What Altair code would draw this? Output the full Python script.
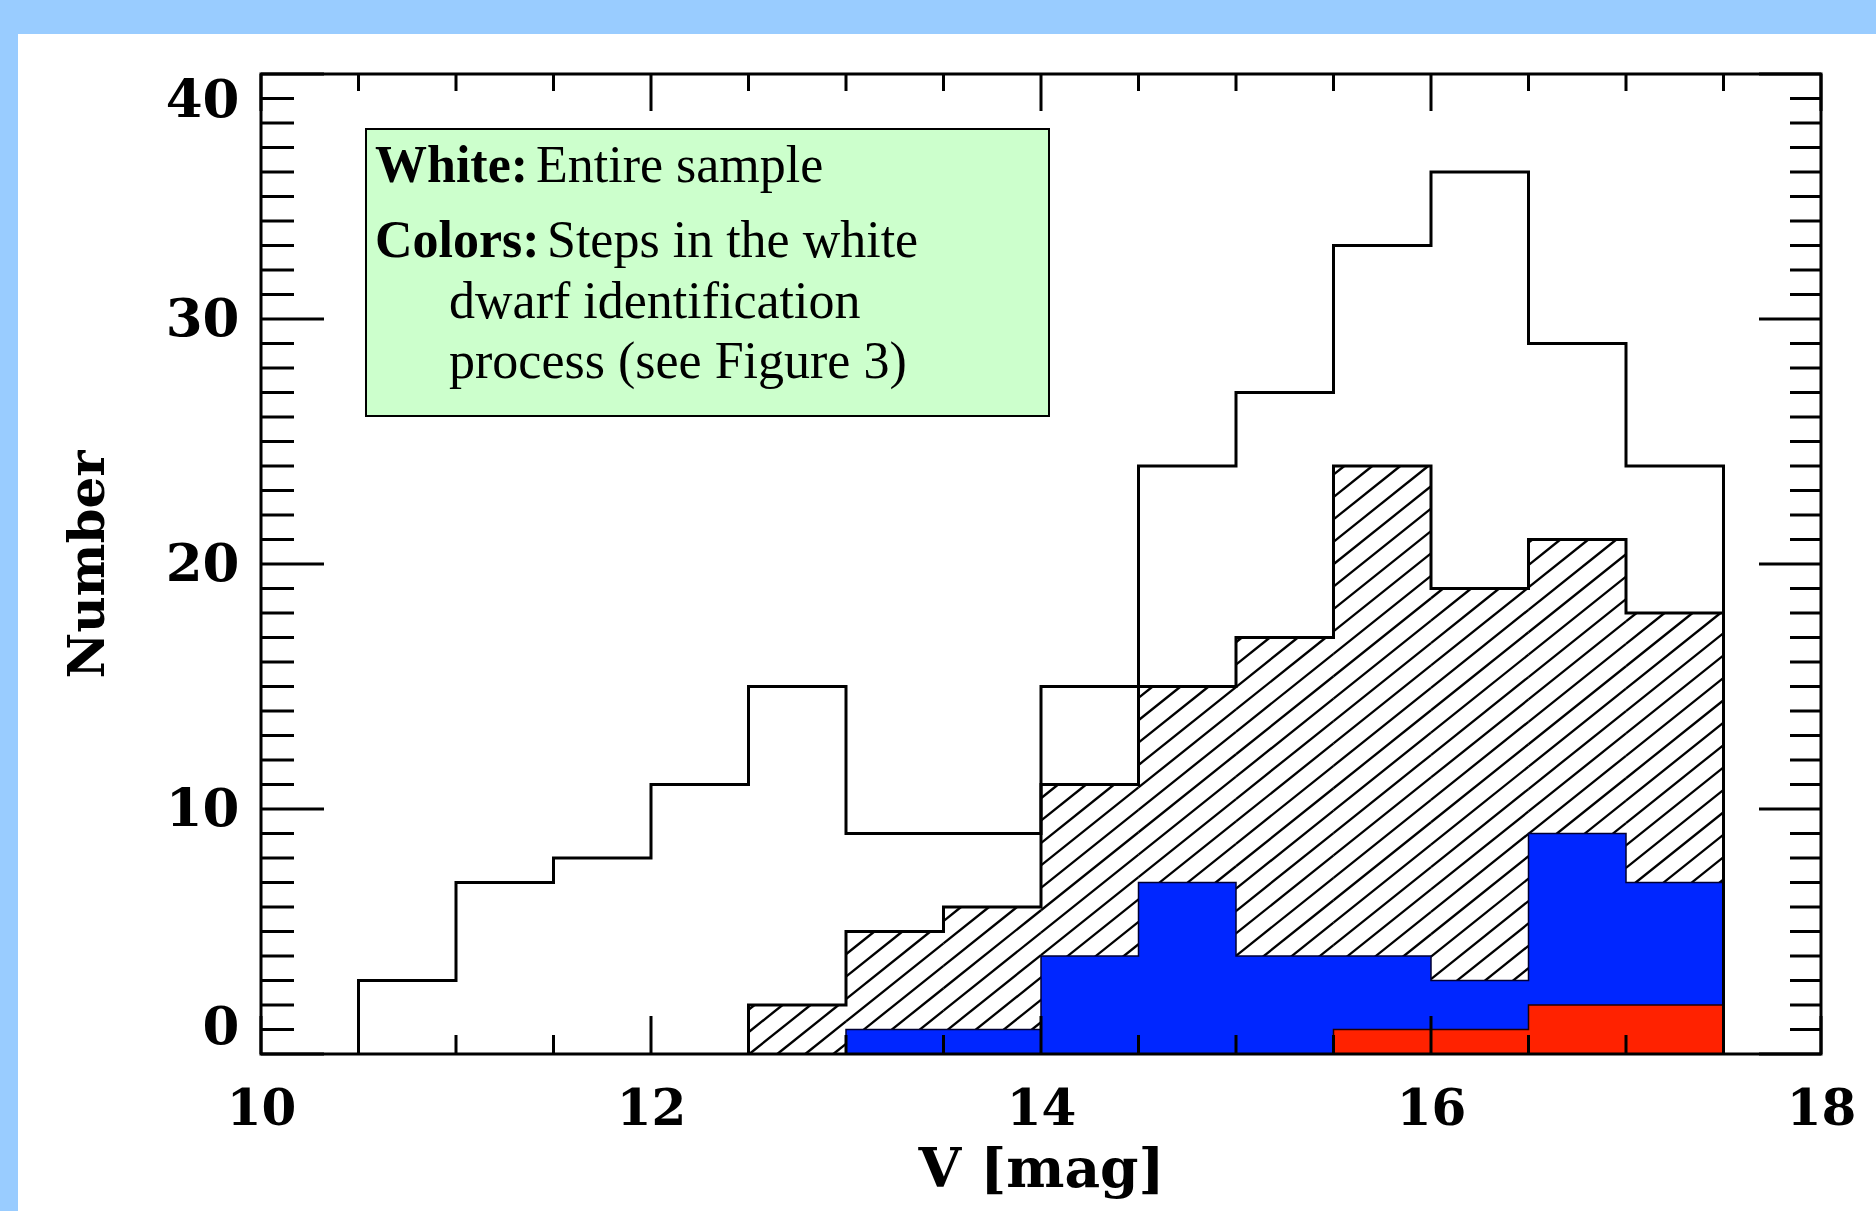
import altair as alt
import pandas as pd
import numpy as np

# ---------------- data ----------------
BIN_WIDTH = 0.5
ALL_START = 10.5
ALL_COUNTS = [3, 7, 8, 11, 15, 9, 9, 15, 24, 27, 33, 36, 29, 24]   # white: entire sample
HATCH_START = 12.5
HATCH_COUNTS = [2, 5, 6, 11, 15, 17, 24, 19, 21, 18]               # hatched step
BLUE_START = 13.0
BLUE_COUNTS = [1, 1, 4, 7, 4, 4, 3, 9, 7]                          # blue step
RED_START = 15.5
RED_COUNTS = [1, 1, 2, 2]                                          # red step

X_DOMAIN = [10, 18]
Y_DOMAIN = [0, 40]
X_MAJOR = [10, 12, 14, 16, 18]
X_MINOR = [10.5, 11, 11.5, 12.5, 13, 13.5, 14.5, 15, 15.5, 16.5, 17, 17.5]
Y_MAJOR = [0, 10, 20, 30, 40]
Y_MINOR = [v for v in range(0, 41) if v % 10 != 0]

X_TITLE = "V [mag]"
Y_TITLE = "Number"
BOX_BOLD = ["White:", "Colors:"]
BOX_TEXT = ["Entire sample", "Steps in the white", "dwarf identification", "process (see Figure 3)"]

# ---------------- layout / style ----------------
W, H = 1560, 980
PAD = {"left": 261, "top": 74, "right": 55, "bottom": 157}
BLUE = "#0026ff"
RED = "#ff2200"
FRAME_BG = "#99ccff"
BOX_BG = "#ccffcc"
AX_FONT = "DejaVu Serif"
TXT_FONT = "Liberation Serif"


def edges(start, counts):
    return [start + BIN_WIDTH * i for i in range(len(counts) + 1)]


def area_df(start, counts):
    e = edges(start, counts)
    return pd.DataFrame({"x": e, "y": list(counts) + [counts[-1]]})


def line_df(start, counts):
    e = edges(start, counts)
    xs = [e[0]] + e[:-1] + [e[-1], e[-1]]
    ys = [0] + list(counts) + [counts[-1], 0]
    return pd.DataFrame({"x": xs, "y": ys, "i": list(range(len(xs)))})


def hatch_df(start, counts, spacing_px=28.0, slope_px=0.8):
    # diagonal hatch segments clipped to each bar of the hatched histogram
    px = W / (X_DOMAIN[1] - X_DOMAIN[0])
    py = H / (Y_DOMAIN[1] - Y_DOMAIN[0])
    s = slope_px * px / py          # counts per mag along a hatch line
    dm = spacing_px / px            # horizontal spacing in mag
    e = edges(start, counts)
    top = max(counts)
    m0 = start - top / s - dm + 0.04
    rows = []
    m = m0
    while m < e[-1]:
        for a, b, c in zip(e[:-1], e[1:], counts):
            lo = max(a, m)
            hi = min(b, m + c / s)
            if hi > lo:
                rows.append({"x": lo, "y": s * (lo - m), "x2": hi, "y2": s * (hi - m)})
        m += dm
    return pd.DataFrame(rows)


xscale = alt.Scale(domain=X_DOMAIN, nice=False, zero=False)
yscale = alt.Scale(domain=Y_DOMAIN, nice=False, zero=False)

xaxis = alt.Axis(values=X_MAJOR, format="d", ticks=False, domain=False, grid=False,
                 labelFont=AX_FONT, labelFontWeight="bold", labelFontSize=50,
                 labelColor="black", labelPadding=30, zindex=2, labelFlush=False,
                 title=X_TITLE, titleFont=AX_FONT, titleFontWeight="bold",
                 titleFontSize=55, titleColor="black", titlePadding=9)
yaxis = alt.Axis(values=Y_MAJOR, format="d", ticks=False, domain=False, grid=False,
                 labelFont=AX_FONT, labelFontWeight="bold", labelFontSize=53,
                 labelColor="black", labelPadding=22, labelFlush=True, zindex=2,
                 title=Y_TITLE, titleFont=AX_FONT, titleFontWeight="bold",
                 titleFontSize=50, titleColor="black", titlePadding=52)


def X(f="x"):
    return alt.X(f"{f}:Q", scale=xscale, axis=xaxis)


def Y(f="y"):
    return alt.Y(f"{f}:Q", scale=yscale, axis=yaxis)


one = pd.DataFrame({"k": [0]})

# white panel behind the plot
panel = alt.Chart(one).mark_rect(fill="white").encode(
    x=alt.value(-243), x2=alt.value(W + PAD["right"]),
    y=alt.value(-40), y2=alt.value(H + PAD["bottom"]))

# hatch
hatch = alt.Chart(hatch_df(HATCH_START, HATCH_COUNTS)).mark_rule(
    color="black", strokeWidth=2.3).encode(x=X(), y=Y(), x2="x2:Q", y2="y2:Q")
hatch_line = alt.Chart(line_df(HATCH_START, HATCH_COUNTS)).mark_line(
    interpolate="step-after", color="black", strokeWidth=3).encode(
    x=X(), y=Y(), order="i:Q")

blue_area = alt.Chart(area_df(BLUE_START, BLUE_COUNTS)).mark_area(
    interpolate="step-after", color=BLUE, opacity=1).encode(x=X(), y=Y())
blue_line = alt.Chart(line_df(BLUE_START, BLUE_COUNTS)).mark_line(
    interpolate="step-after", color="#000033", strokeWidth=1.5).encode(
    x=X(), y=Y(), order="i:Q")

red_area = alt.Chart(area_df(RED_START, RED_COUNTS)).mark_area(
    interpolate="step-after", color=RED, opacity=1).encode(x=X(), y=Y())
red_line = alt.Chart(line_df(RED_START, RED_COUNTS)).mark_line(
    interpolate="step-after", color="#220000", strokeWidth=1.5).encode(
    x=X(), y=Y(), order="i:Q")

all_line = alt.Chart(line_df(ALL_START, ALL_COUNTS)).mark_line(
    interpolate="step-after", color="black", strokeWidth=3).encode(
    x=X(), y=Y(), order="i:Q")

# inward ticks on all four sides
xmaj = pd.DataFrame({"x": X_MAJOR})
xmin = pd.DataFrame({"x": X_MINOR})
ymaj = pd.DataFrame({"y": Y_MAJOR})
ymin = pd.DataFrame({"y": Y_MINOR})


def xticks(df, y0, y1):
    return alt.Chart(df).mark_rule(color="black", strokeWidth=3).encode(
        x=X(), y=alt.value(y0), y2=alt.value(y1))


def yticks(df, x0, x1):
    return alt.Chart(df).mark_rule(color="black", strokeWidth=3).encode(
        y=Y(), x=alt.value(x0), x2=alt.value(x1))


ticks = [
    xticks(xmaj, H, H - 38), xticks(xmin, H, H - 19),
    xticks(xmaj, 0, 37), xticks(xmin, 0, 17),
    yticks(ymaj, 0, 63), yticks(ymin, 0, 33),
    yticks(ymaj, W, W - 62), yticks(ymin, W, W - 31),
]

frame = alt.Chart(one).mark_rect(fill=None, stroke="black", strokeWidth=3).encode(
    x=alt.value(0), x2=alt.value(W), y=alt.value(0), y2=alt.value(H))

# annotation box
box = alt.Chart(one).mark_rect(fill=BOX_BG, stroke="black", strokeWidth=2).encode(
    x=alt.value(105), x2=alt.value(788), y=alt.value(55), y2=alt.value(342))


def txt(s, x, y, bold=False):
    return alt.Chart(one).mark_text(
        text=s, align="left", baseline="alphabetic", font=TXT_FONT,
        fontSize=52, fontWeight="bold" if bold else "normal", color="black"
    ).encode(x=alt.value(x), y=alt.value(y))


texts = [
    txt(BOX_BOLD[0], 114, 108, True),
    txt(BOX_TEXT[0], 275, 108),
    txt(BOX_BOLD[1], 114, 183, True),
    txt(BOX_TEXT[1], 286, 183),
    txt(BOX_TEXT[2], 188, 244),
    txt(BOX_TEXT[3], 188, 304),
]

chart = alt.layer(
    panel, hatch, hatch_line, blue_area, blue_line, red_area, red_line, all_line,
    *ticks, frame, box, *texts
).properties(
    width=W, height=H, padding=PAD,
    autosize=alt.AutoSizeParams(type="none"),
    background=FRAME_BG,
).configure_view(stroke=None)

chart.save("out.html", embed_options={"renderer": "svg", "actions": False})
